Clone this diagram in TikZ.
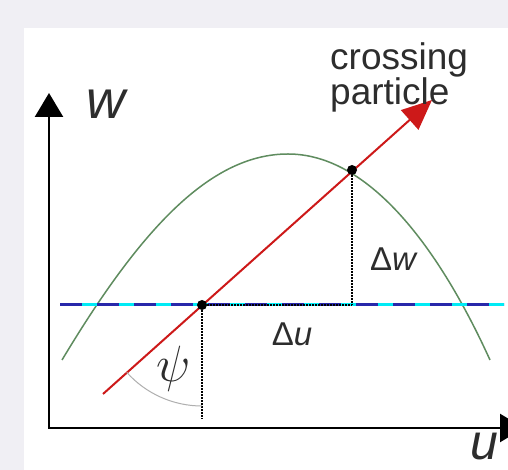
\documentclass[tikz,border=0pt]{standalone}
\usepackage{fontspec}
\setmainfont{Liberation Sans}
\usepackage{tikz}
\usetikzlibrary{arrows.meta,positioning}
\definecolor{pagegray}{RGB}{240,239,244}
\definecolor{labelgray}{RGB}{45,45,45}
\definecolor{curvegreen}{RGB}{95,140,95}
\definecolor{particlered}{RGB}{205,25,25}
\definecolor{levelcyan}{RGB}{0,235,245}
\definecolor{levelblue}{RGB}{40,40,170}
\definecolor{arcgray}{RGB}{175,175,175}

\begin{document}
\begin{tikzpicture}[x=1pt,y=1pt,
  axis/.style={line width=2.4pt,{Triangle[length=24pt,width=28pt]}-{Triangle[length=24pt,width=28pt]}},
  guide/.style={line width=1.2pt,dash pattern=on 1.5pt off 1.5pt},
  dot/.style={circle,fill=black,inner sep=0pt,minimum size=10pt},
  lbl/.style={text=labelgray,inner sep=0pt}]
\useasboundingbox (0,0) rectangle (508,470);
\fill[pagegray] (0,0) rectangle (508,470);
\fill[white] (24,0) rectangle (508,442);
% points
\coordinate (O) at (49,42);
\coordinate (wtip) at (49,377);
\coordinate (utip) at (524,42);
\coordinate (g1) at (62,110);
\coordinate (gtop) at (288,316);
\coordinate (g2) at (490,110);
\coordinate (hl) at (60,165);
\coordinate (hr) at (504,165);
\coordinate (pstart) at (103,76);
\coordinate (ptip) at (432,370);
\coordinate (foot) at (202,51);
\coordinate (corner) at (352,165);
\coordinate (arcstart) at (202,64);
% axes
\draw[axis] (wtip) -- (O) -- (utip);
\node[lbl,font=\fontsize{54}{54}\selectfont\itshape] (wlabel) at (106,366) {w};
\node[lbl,font=\fontsize{50}{50}\selectfont\itshape] (ulabel) at (484,23) {u};
% curve and level line
\draw[curvegreen,line width=1.5pt] (g1) .. controls (140,240) and (210,316) .. (gtop)
  .. controls (370,316) and (440,220) .. (g2);
\draw[levelcyan,line width=3pt] (hl) -- (hr);
\draw[levelblue,line width=3pt,dash pattern=on 22pt off 15pt] (hl) -- (hr);
% particle
\draw[particlered,line width=2pt,-{Triangle[length=30pt,width=26pt]}] (pstart) -- (ptip);
\node[dot] (d1) at (202,165) {};
\node[dot] (d2) at (352,300) {};
\draw[guide] (d1) -- (foot);
\draw[guide] (d1) -- (corner);
\draw[guide] (d2) -- (corner);
\draw[arcgray,line width=1pt] (arcstart) arc[start angle=270,end angle=221.8,radius=101];
% labels
\node[lbl,font=\fontsize{24}{24}\selectfont] (psi) at (174,101) {\scalebox{2.05}{$\psi$}};
\node[lbl,font=\fontsize{33}{33}\selectfont] (dw) at (394,211) {Δ\textit{w}};
\node[lbl,font=\fontsize{33}{33}\selectfont] (du) at (292,136) {Δ\textit{u}};
\node[lbl,anchor=north west,align=left,font=\fontsize{37}{30}\selectfont] (cross) at (330,428) {crossing\\particle};
\end{tikzpicture}
\end{document}
